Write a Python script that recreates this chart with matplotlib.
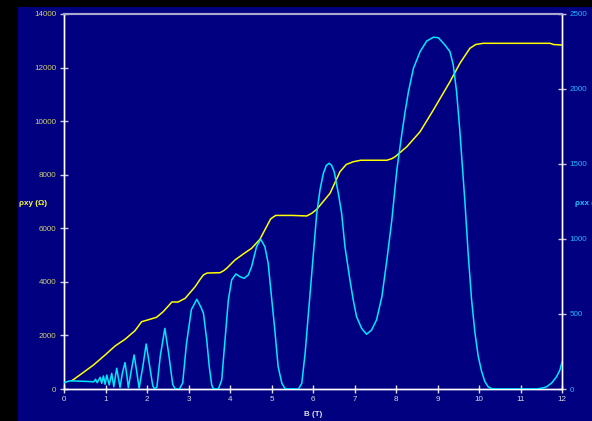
import matplotlib
matplotlib.use("Agg")
import matplotlib.pyplot as plt
from matplotlib.patches import Rectangle

# ---- data ----
B_xy = [0.19, 0.45, 0.71, 0.99, 1.23, 1.47, 1.71, 1.87, 2.07, 2.23, 2.39, 2.60, 2.75, 2.92,
        3.16, 3.28, 3.36, 3.45, 3.76, 3.85, 3.92, 4.12, 4.32, 4.52, 4.72, 4.88, 4.98, 5.10,
        5.50, 5.85, 5.97, 6.09, 6.41, 6.65, 6.80, 6.97, 7.15, 7.78, 7.90, 7.98, 8.26, 8.58,
        8.90, 9.30, 9.54, 9.78, 9.92, 10.10, 11.71, 11.80, 12.0]
rho_xy = [310, 600, 896, 1269, 1605, 1855, 2176, 2512, 2602, 2677, 2886, 3248, 3248, 3386,
          3819, 4095, 4260, 4330, 4342, 4420, 4506, 4816, 5040, 5252, 5588, 6059, 6350, 6480,
          6480, 6460, 6560, 6708, 7306, 8112, 8380, 8485, 8540, 8540, 8600, 8672, 9045, 9605,
          10415, 11472, 12159, 12719, 12860, 12906, 12906, 12860, 12842]

B_xx = [0.00, 0.15, 0.40, 0.60, 0.72, 0.76, 0.80, 0.87, 0.91, 0.95, 0.99, 1.03, 1.09, 1.15,
        1.20, 1.27, 1.35, 1.41, 1.47, 1.51, 1.55, 1.62, 1.69, 1.75, 1.81, 1.90, 1.98, 2.06,
        2.14, 2.19, 2.24, 2.32, 2.43, 2.52, 2.62, 2.68, 2.78, 2.86, 2.95, 3.07, 3.20, 3.30,
        3.36, 3.44, 3.50, 3.56, 3.60, 3.72, 3.80, 3.88, 3.96, 4.04, 4.14, 4.24, 4.34, 4.44,
        4.52, 4.64, 4.74, 4.84, 4.92, 5.00, 5.08, 5.16, 5.25, 5.33, 5.65, 5.73, 5.81, 5.89,
        5.97, 6.09, 6.17, 6.25, 6.32, 6.39, 6.45, 6.51, 6.61, 6.69, 6.77, 6.89, 6.97, 7.05,
        7.17, 7.29, 7.41, 7.53, 7.66, 7.78, 7.90, 8.02, 8.14, 8.22, 8.30, 8.42, 8.58, 8.74,
        8.90, 9.02, 9.18, 9.30, 9.38, 9.46, 9.54, 9.58, 9.66, 9.74, 9.82, 9.90, 9.98, 10.06,
        10.14, 10.22, 10.30, 10.40, 11.40, 11.55, 11.63, 11.75, 11.87, 11.95, 12.0]
rho_xx = [42, 55, 52, 50, 48, 65, 42, 78, 38, 87, 31, 93, 27, 104,
          15, 138, 11, 110, 176, 100, 9, 120, 227, 120, 5, 150, 300, 160,
          20, 0, 15, 220, 404, 240, 30, 0, 0, 40, 300, 530, 598, 545,
          505, 327, 149, 27, 0, 0, 60, 327, 593, 727, 767, 749, 738, 760,
          815, 949, 998, 949, 838, 615, 393, 149, 38, 0, 0, 38, 238, 505,
          771, 1171, 1330, 1438, 1490, 1505, 1490, 1449, 1305, 1171, 949, 727, 593, 482,
          405, 365, 393, 460, 615, 860, 1127, 1460, 1700, 1850, 1982, 2138, 2249, 2320,
          2345, 2342, 2293, 2249, 2160, 1982, 1715, 1560, 1250, 900, 600, 380, 220, 120,
          50, 15, 3, 0, 0, 8, 15, 40, 82, 127, 180]

x_ticks = list(range(0, 13))
left_ticks = [0, 2000, 4000, 6000, 8000, 10000, 12000, 14000]
right_ticks = [0, 500, 1000, 1500, 2000, 2500]

NAVY = "#000080"
W, H = 592, 421
plt.rcParams['font.family'] = ['Liberation Sans', 'DejaVu Sans']

fig = plt.figure(figsize=(W / 100, H / 100), dpi=100, facecolor=NAVY)
# black strips at left and top
fig.patches.append(Rectangle((0, 0), 18 / W, 1, transform=fig.transFigure,
                             facecolor="black", edgecolor="none", zorder=0))
fig.patches.append(Rectangle((0, 1 - 7 / H), 1, 7 / H, transform=fig.transFigure,
                             facecolor="black", edgecolor="none", zorder=0))

ax = fig.add_axes([64 / W, (H - 389) / H, (562 - 64) / W, (389 - 14) / H])
ax.set_facecolor(NAVY)
ax.plot(B_xy, rho_xy, color="#ffff00", lw=1.1, zorder=3)
ax.set_xlim(0, 12)
ax.set_ylim(0, 14000)
ax.set_xticks(x_ticks)
ax.set_yticks(left_ticks)

ax2 = ax.twinx()
ax2.plot(B_xx, rho_xx, color="#00e8ff", lw=1.1, zorder=3)
ax2.set_ylim(0, 2500)
ax2.set_yticks(right_ticks)

for a in (ax, ax2):
    for s in a.spines.values():
        s.set_linewidth(1.0)
        s.set_color("white")
    a.spines["top"].set_color("#a8a8d0")
    a.spines["top"].set_linewidth(1.5)

ax.tick_params(axis="x", direction="inout", length=6, width=1, color="#e0e0e0",
               labelcolor="#d8d8d8", labelsize=5.8, pad=2)
ax.tick_params(axis="y", direction="inout", length=6, width=1, color="#c8c8d8",
               labelcolor="#d0d070", labelsize=5.8, pad=2.5)
ax2.tick_params(axis="y", direction="inout", length=6, width=1, color="#c8c8d8",
                labelcolor="#20b8ff", labelsize=5.8, pad=2.5)

fig.text(19 / W, 1 - 203 / H, "ρxy (Ω)", color="#ffff33", fontsize=5.8,
         fontweight="bold", ha="left", va="center")
fig.text(575 / W, 1 - 203 / H, "ρxx (Ω)", color="#20c8ff", fontsize=5.8,
         fontweight="bold", ha="left", va="center")
fig.text(313 / W, 1 - 414 / H, "B (T)", color="#e0e0e0", fontsize=5.8,
         fontweight="bold", ha="center", va="center")

fig.savefig("out.png", dpi=100, facecolor=NAVY)
